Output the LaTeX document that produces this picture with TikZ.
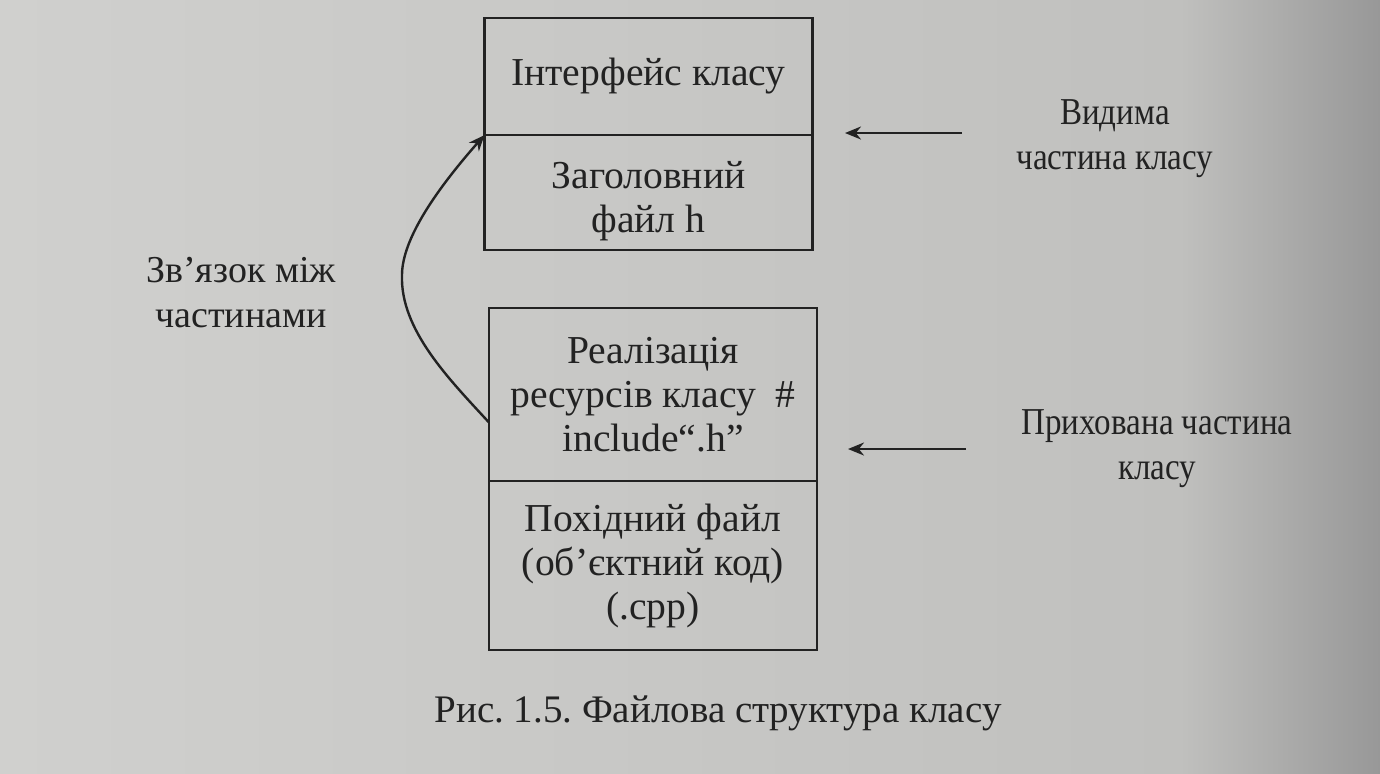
\documentclass[tikz,border=0pt]{standalone}
\usepackage{fontspec}
\setmainfont{Liberation Serif}
\newfontfamily\narrowserif[FakeStretch=0.87]{Liberation Serif}
\usepackage{tikz}
\usetikzlibrary{arrows.meta, positioning, calc}
\frenchspacing

\definecolor{paperL}{RGB}{208,208,206}
\definecolor{paperM}{RGB}{192,192,190}
\definecolor{paperR}{RGB}{152,152,152}
\definecolor{ink}{RGB}{34,34,34}

\begin{document}
\begin{tikzpicture}[x=0.5pt, y=-0.5pt,
    % Sections of the two file boxes
    part/.style={draw=ink, line width=1.1pt, outer sep=0pt, minimum width=164pt, align=center, text=ink,
        font=\fontsize{19.8}{22}\selectfont},
    % Free labels
    lbl/.style={align=center, text=ink, inner sep=0pt, font=\fontsize{19}{22.5}\selectfont},
    sidelbl/.style={lbl, font=\narrowserif\fontsize{19}{22.5}\selectfont},
    arrow/.style={-{Stealth[length=8pt, width=6.5pt]}, draw=ink, line width=1.2pt}
]

% Paper
\useasboundingbox (0,0) rectangle (1380,773);
\shade[left color=paperL, right color=paperM] (0,0) rectangle (1181,773);
\shade[left color=paperM, right color=paperR] (1180,0) rectangle (1380,773);

% Visible part: interface and header file
\node[part, minimum height=58.5pt] (iface) at (648.5,76.5) {Інтерфейс класу};
\node[part, minimum height=57.5pt, inner ysep=0pt, below=0pt of iface] (hdr) {\rule{0pt}{22pt}Заголовний\\файл h};

% Hidden part: implementation and object code
\node[part, minimum height=86.5pt] (impl) at (653,394.5) {Реалізація\\ресурсів класу \ \#\\include“.h”};
\node[part, minimum height=84.5pt, below=0pt of impl] (obj) {Похідний файл\\(об’єктний код)\\(.cpp)};

% Labels
\node[sidelbl] (vislbl) at (1115,139) {Видима\\частина класу};
\node[sidelbl] (hidlbl) at (1157,449) {Прихована частина\\класу};
\node[lbl] (linklbl) at (241,293) {Зв’язок між\\частинами};
\node[lbl, font=\fontsize{19.5}{22.5}\selectfont] (caption) at (718,713) {Рис. 1.5. Файлова структура класу};

% Pointer arrows
\coordinate (vistail) at (962,133);
\coordinate (vistip) at (845,133);
\coordinate (hidtail) at (966,449);
\coordinate (hidtip) at (848,449);
\draw[arrow] (vistail) -- (vistip);
\draw[arrow] (hidtail) -- (hidtip);

% Link between the parts
\draw[arrow] ([yshift=-14pt]impl.west) .. controls (450,380) and (400,330) .. (402,275)
    .. controls (402,235) and (445,180) .. (hdr.north west);

\end{tikzpicture}
\end{document}
